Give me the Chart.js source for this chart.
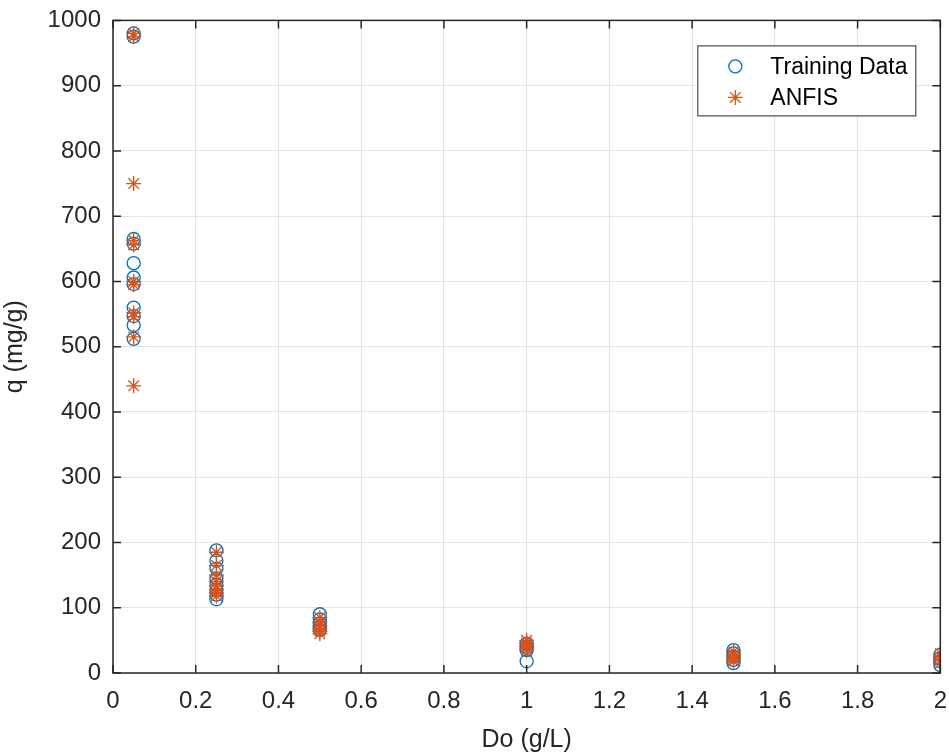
<!DOCTYPE html>
<html>
<head>
<meta charset="utf-8">
<script src="https://cdn.jsdelivr.net/npm/chart.js@4/dist/chart.umd.min.js"></script>
<style>
  html, body { margin: 0; padding: 0; background: #fff; overflow: hidden; }
  #wrap { width: 961px; height: 761px; margin-top: -6px; }
</style>
</head>
<body>
<div id="wrap"><canvas id="q-chart"></canvas></div>
<script>
// adsorbent dose (g/L) and q values, one list per dose
const doses = [0.05, 0.25, 0.5, 1, 1.5, 2];
const trainingQ = [
  [975, 980, 665, 658, 628, 606, 596, 560, 547, 533, 512],
  [188, 172, 160, 145, 135, 127, 120, 113],
  [90, 82, 76, 70, 66],
  [45, 40, 35, 18],
  [35, 30, 25, 20, 15],
  [28, 22, 18, 12]
];
const anfisQ = [
  [980, 975, 750, 663, 656, 600, 595, 552, 546, 515, 440],
  [185, 165, 150, 140, 133, 128, 123, 118],
  [85, 78, 72, 68, 64, 60],
  [50, 46, 42, 38, 35],
  [33, 28, 25, 22, 18],
  [30, 25, 20, 15]
];
const xTicks = [0, 0.2, 0.4, 0.6, 0.8, 1, 1.2, 1.4, 1.6, 1.8, 2];

const toPoints = lists => lists.flatMap((ys, i) => ys.map(y => ({ x: doses[i], y: y })));

const FONT = "'Liberation Sans', Arial, Helvetica, sans-serif";
const TXT = '#262626';

// MATLAB style box, inward ticks and legend
const matlabBox = {
  id: 'matlabBox',
  afterDraw(chart) {
    const { ctx, chartArea: a, scales } = chart;
    ctx.save();
    ctx.strokeStyle = TXT;
    ctx.lineWidth = 1.5;
    ctx.strokeRect(a.left, a.top, a.right - a.left, a.bottom - a.top);
    ctx.beginPath();
    scales.x.ticks.forEach(t => {
      const px = scales.x.getPixelForValue(t.value);
      ctx.moveTo(px, a.bottom); ctx.lineTo(px, a.bottom - 8);
      ctx.moveTo(px, a.top); ctx.lineTo(px, a.top + 8);
    });
    scales.y.ticks.forEach(t => {
      const py = scales.y.getPixelForValue(t.value);
      ctx.moveTo(a.left, py); ctx.lineTo(a.left + 8, py);
      ctx.moveTo(a.right, py); ctx.lineTo(a.right - 8, py);
    });
    ctx.stroke();

    // legend
    const bw = 218, bh = 70;
    const bx = a.right - 25 - bw, by = a.top + 25;
    ctx.fillStyle = '#fff';
    ctx.fillRect(bx, by, bw, bh);
    ctx.strokeStyle = TXT;
    ctx.lineWidth = 1;
    ctx.strokeRect(bx + 0.5, by + 0.5, bw, bh);
    ctx.font = '23px ' + FONT;
    ctx.textBaseline = 'middle';
    chart.data.datasets.slice().sort((p, q) => p.legendPos - q.legendPos).forEach((ds, i) => {
      const cy = by + 21 + i * 31;
      ctx.strokeStyle = ds.borderColor;
      ctx.lineWidth = ds.pointBorderWidth;
      Chart.helpers.drawPoint(ctx, { pointStyle: ds.pointStyle, radius: ds.pointRadius, borderWidth: ds.pointBorderWidth, rotation: 0 }, bx + 38, cy);
      ctx.fillStyle = '#000';
      ctx.fillText(ds.label, bx + 73, cy + 1);
    });
    ctx.restore();
  }
};

new Chart(document.getElementById('q-chart'), {
  type: 'scatter',
  data: {
    datasets: [
      {
        label: 'ANFIS',
        legendPos: 1,
        order: 0,
        data: toPoints(anfisQ),
        pointStyle: 'star',
        pointRadius: 7.5,
        pointBorderWidth: 1.3,
        borderColor: '#D95319',
        backgroundColor: '#D95319'
      },
      {
        label: 'Training Data',
        legendPos: 0,
        order: 1,
        data: toPoints(trainingQ),
        pointStyle: 'circle',
        pointRadius: 6.5,
        pointBorderWidth: 1.3,
        borderColor: '#0072BD',
        backgroundColor: 'rgba(0,0,0,0)'
      }
    ]
  },
  options: {
    responsive: true,
    maintainAspectRatio: false,
    animation: false,
    layout: { padding: { top: 8, right: 0, left: 0, bottom: 0 } },
    plugins: {
      legend: { display: false },
      tooltip: { enabled: false }
    },
    scales: {
      x: {
        type: 'linear',
        min: 0, max: 2,
        afterBuildTicks: s => { s.ticks = xTicks.map(v => ({ value: v })); },
        ticks: {
          font: { family: FONT, size: 24 },
          color: TXT,
          padding: 14,
          maxRotation: 0,
          callback: v => String(v)
        },
        grid: { color: '#e3e3e3', lineWidth: 1, drawTicks: false },
        border: { display: false },
        title: {
          display: true,
          text: 'Do (g/L)',
          font: { family: FONT, size: 25 },
          color: TXT,
          padding: { top: 2, bottom: 0 }
        },
        afterFit: s => { s.height = 82; }
      },
      y: {
        min: 0, max: 1000,
        ticks: {
          stepSize: 100,
          font: { family: FONT, size: 24 },
          color: TXT,
          padding: 12,
          callback: v => String(v)
        },
        grid: { color: '#e3e3e3', lineWidth: 1, drawTicks: false },
        border: { display: false },
        title: {
          display: true,
          text: 'q (mg/g)',
          font: { family: FONT, size: 25 },
          color: TXT,
          padding: { top: 0, bottom: 6 }
        },
        afterFit: s => { s.width = 113; }
      }
    }
  },
  plugins: [matlabBox]
});
</script>
</body>
</html>
